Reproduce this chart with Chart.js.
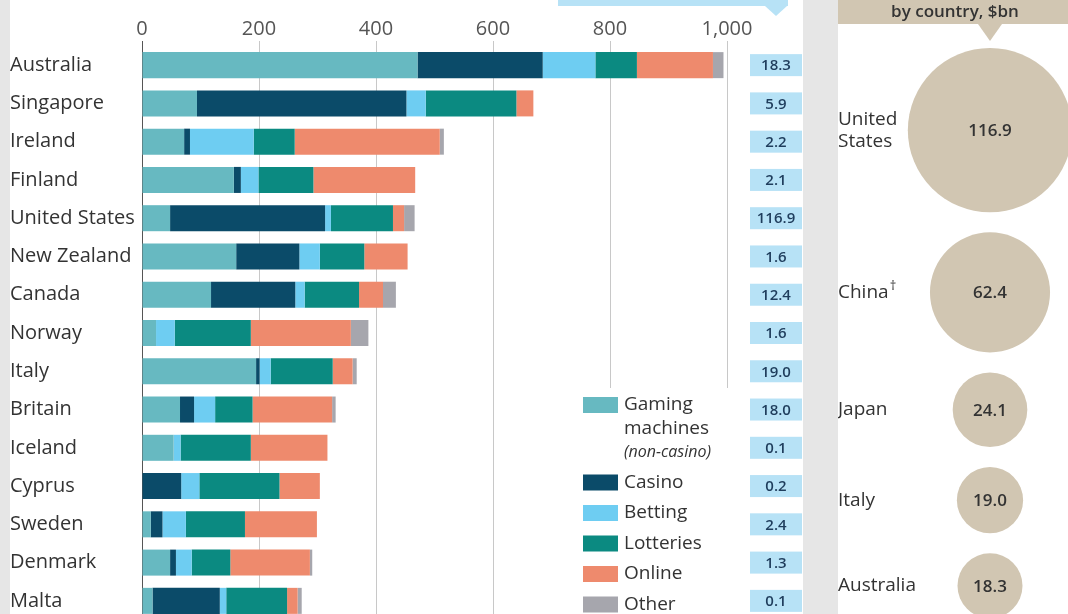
<!DOCTYPE html>
<html>
<head>
<meta charset="utf-8">
<script src="https://cdn.jsdelivr.net/npm/chart.js@4"></script>
<style>
body { margin: 0; background: #e6e6e6; width: 1068px; height: 614px; overflow: hidden; position: relative; }
#left { position: absolute; left: 10px; top: 0; width: 793px; height: 614px; background: #fff; overflow: hidden; }
#right { position: absolute; left: 838px; top: 0; width: 230px; height: 614px; background: #fff; overflow: hidden; }
canvas { display: block; }
</style>
</head>
<body>
<div id="left"><canvas id="barChart" width="793" height="620"></canvas></div>
<div id="right"><canvas id="bubbleChart" width="230" height="614"></canvas></div>
<script>
var countries = ['Australia', 'Singapore', 'Ireland', 'Finland', 'United States', 'New Zealand', 'Canada',
    'Norway', 'Italy', 'Britain', 'Iceland', 'Cyprus', 'Sweden', 'Denmark', 'Malta'];
var seriesNames = ['Gaming machines (non-casino)', 'Casino', 'Betting', 'Lotteries', 'Online', 'Other'];
var gaming    = [471,  94,  72, 157,  48, 161, 118,  24, 195,  65,  54,   0,  15,  48,  18];
var casino    = [214, 358,  10,  12, 265, 108, 144,   0,   6,  24,   0,  67,  20,  10, 115];
var betting   = [ 90,  33, 109,  30,  10,  35,  16,  32,  19,  36,  12,  31,  40,  27,  11];
var lotteries = [ 71, 155,  70,  94, 106,  76,  93, 130, 106,  64, 120, 137, 101,  66, 104];
var online    = [130,  29, 248, 174,  19,  74,  41, 171,  34, 136, 131,  69, 123, 136,  18];
var other     = [ 18,   0,   7,   0,  18,   0,  22,  30,   7,   6,   0,   0,   0,   4,   7];
var totalBn   = [18.3, 5.9, 2.2, 2.1, 116.9, 1.6, 12.4, 1.6, 19.0, 18.0, 0.1, 0.2, 2.4, 1.3, 0.1];
var xTicks    = [0, 200, 400, 600, 800, 1000];

var bubbleCountries = ['United States', 'China', 'Japan', 'Italy', 'Australia'];
var bubbleValues    = [116.9, 62.4, 24.1, 19.0, 18.3];

var seriesColors = ['#67b9c1', '#0b4b69', '#6ecdf2', '#0b8a81', '#ee8a6d', '#a6a6ad'];
var fontFam = '"Open Sans", sans-serif';

// blue value boxes to the right of the bars
var valueBoxes = {
    id: 'valueBoxes',
    afterDatasetsDraw: function(chart) {
        var ctx = chart.ctx, ys = chart.scales.y, x0 = chart.chartArea.right + 23;
        ctx.save();
        ctx.font = '600 15px ' + fontFam;
        ctx.textAlign = 'center';
        ctx.textBaseline = 'middle';
        for (var i = 0; i < countries.length; i++) {
            var y = ys.getPixelForValue(i);
            ctx.fillStyle = '#b7e2f6';
            ctx.fillRect(x0, y - 11, 52, 22);
            ctx.fillStyle = '#1f3d5c';
            ctx.fillText(totalBn[i].toFixed(1), x0 + 26, y + 1);
        }
        ctx.restore();
    }
};

// legend sitting in the lower right of the bar area
var legendBox = {
    id: 'legendBox',
    afterDatasetsDraw: function(chart) {
        var ctx = chart.ctx, x = chart.chartArea.right - 144;
        ctx.save();
        ctx.fillStyle = '#fff';
        ctx.fillRect(x - 8, 388, 172, 240);
        var y = 405;
        chart.data.datasets.forEach(function(ds) {
            var lines = ds.label.length > 12 ? ds.label.split(' ') : [ds.label];
            ctx.fillStyle = ds.backgroundColor;
            ctx.fillRect(x, y - 8, 35, 16);
            lines.forEach(function(t, j) {
                ctx.fillStyle = '#333';
                ctx.textBaseline = 'middle';
                ctx.font = t.charAt(0) == '(' ? 'italic 16px ' + fontFam : '19px ' + fontFam;
                ctx.fillText(t, x + 41, y + j * 23.5);
            });
            y += (lines.length - 1) * 23.5 + 30.5;
        });
        ctx.restore();
    }
};

// cut-off header tab above the value column
var headerTab = {
    id: 'headerTab',
    afterDraw: function(chart) {
        var ctx = chart.ctx, r = chart.chartArea.right;
        ctx.save();
        ctx.fillStyle = '#b7e2f6';
        ctx.fillRect(r - 169, 0, 230, 6);
        ctx.beginPath();
        ctx.moveTo(r + 38, 6);
        ctx.lineTo(r + 60, 6);
        ctx.lineTo(r + 49, 16);
        ctx.fill();
        ctx.restore();
    }
};

var ctx1 = document.getElementById('barChart').getContext('2d');
var barChart = new Chart(ctx1, {
    type: 'bar',
    data: {
        labels: countries,
        datasets: [gaming, casino, betting, lotteries, online, other].map(function(d, i) {
            return {
                label: seriesNames[i],
                data: d,
                backgroundColor: seriesColors[i],
                borderWidth: 0,
                barPercentage: 0.68,
                categoryPercentage: 1
            };
        })
    },
    options: {
        indexAxis: 'y',
        responsive: false,
        animation: false,
        events: [],
        layout: { padding: { right: 76 }, autoPadding: false },
        plugins: { legend: { display: false }, tooltip: { enabled: false } },
        scales: {
            x: {
                position: 'top',
                stacked: true,
                min: 0,
                max: 1000,
                afterBuildTicks: function(s) { s.ticks = xTicks.map(function(v) { return { value: v }; }); },
                ticks: { color: '#555', font: { family: fontFam, size: 20 }, padding: 0 },
                grid: {
                    color: function(c) { return c.tick && c.tick.value === 0 ? '#555' : '#c8c8c8'; },
                    tickLength: 5,
                    lineWidth: 1
                },
                border: { display: false },
                afterFit: function(s) { s.height = 46; s.paddingLeft = 0; s.paddingRight = 0; }
            },
            y: {
                stacked: true,
                ticks: { crossAlign: 'far', color: '#333', font: { family: fontFam, size: 20 }, padding: 0 },
                grid: { display: false },
                border: { display: false },
                afterFit: function(s) { s.width = 132; s.paddingTop = 0; s.paddingBottom = 0; }
            }
        }
    },
    plugins: [valueBoxes, legendBox, headerTab]
});

// right panel: bubbles sized by area, stacked down the panel
var rScale = 7.6, gap = 20;
var bubblePts = [];
var yPos = 48;
bubbleValues.forEach(function(v, i) {
    var r = rScale * Math.sqrt(v);
    if (i > 0) yPos += bubblePts[i - 1].r + gap;
    yPos += r;
    bubblePts.push({ x: 0, y: yPos, r: r });
});

var bubbleLabels = {
    id: 'bubbleLabels',
    afterDatasetsDraw: function(chart) {
        var ctx = chart.ctx;
        var meta = chart.getDatasetMeta(0);
        ctx.save();
        meta.data.forEach(function(el, i) {
            ctx.textBaseline = 'middle';
            ctx.fillStyle = '#333';
            ctx.textAlign = 'center';
            ctx.font = '600 17px ' + fontFam;
            ctx.fillText(bubbleValues[i].toFixed(1), el.x, el.y + 1);
            ctx.textAlign = 'left';
            ctx.font = '19px ' + fontFam;
            var name = bubbleCountries[i];
            if (name.indexOf(' ') > 0) {
                var parts = name.split(' ');
                ctx.fillText(parts[0], 0, el.y - 11);
                ctx.fillText(parts[1], 0, el.y + 11);
            } else {
                ctx.fillText(name, 0, el.y);
                if (name == 'China') {
                    var w = ctx.measureText(name).width;
                    ctx.font = '13px ' + fontFam;
                    ctx.fillText('\u2020', w + 1, el.y - 6);
                }
            }
        });
        // tan header tab
        ctx.fillStyle = '#d1c6b2';
        ctx.fillRect(0, 0, chart.width, 24);
        ctx.beginPath();
        ctx.moveTo(140, 24);
        ctx.lineTo(164, 24);
        ctx.lineTo(152, 41);
        ctx.fill();
        ctx.fillStyle = '#333';
        ctx.textAlign = 'center';
        ctx.font = '600 17px ' + fontFam;
        ctx.fillText('by country, $bn', 117, 12);
        ctx.restore();
    }
};

var ctx2 = document.getElementById('bubbleChart').getContext('2d');
var bubbleChart = new Chart(ctx2, {
    type: 'bubble',
    data: {
        datasets: [{
            label: 'Gambling losses, $bn',
            data: bubblePts,
            backgroundColor: '#d1c6b2',
            borderWidth: 0,
            clip: false
        }]
    },
    options: {
        responsive: false,
        animation: false,
        events: [],
        layout: { padding: { left: 74, right: 0, top: 0, bottom: 0 }, autoPadding: false },
        plugins: { legend: { display: false }, tooltip: { enabled: false } },
        scales: {
            x: { min: -1, max: 1, display: false },
            y: { min: 0, max: 614, reverse: true, display: false }
        }
    },
    plugins: [bubbleLabels]
});
</script>
</body>
</html>
